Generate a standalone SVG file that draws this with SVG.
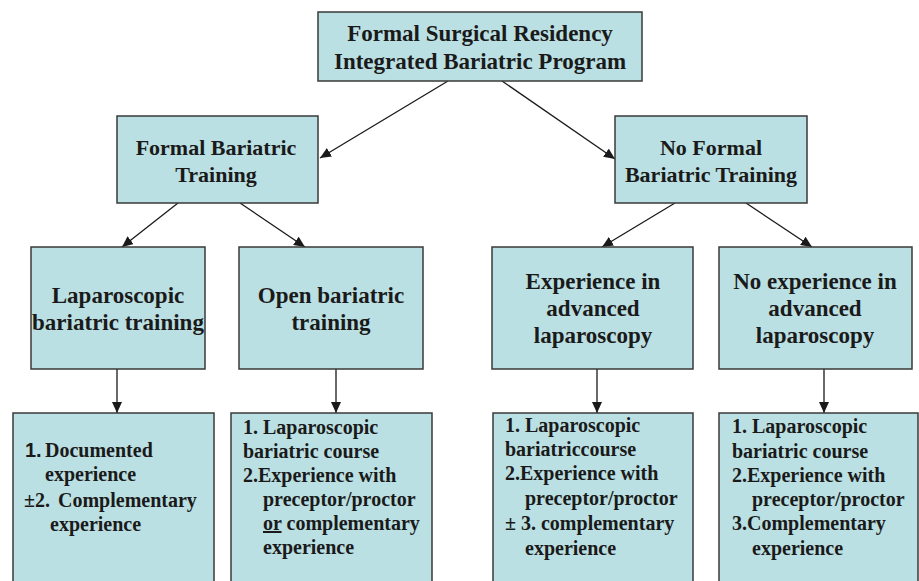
<svg xmlns="http://www.w3.org/2000/svg" width="919" height="581" viewBox="0 0 919 581">
<style>
.box{fill:#bbe0e3;stroke:#3a3a3a;stroke-width:1.5}
text{font-family:"Liberation Serif","Times New Roman",serif;font-weight:bold;fill:#1a1a1a}
.t23{font-size:23px;text-anchor:middle}
.t22{font-size:22px;text-anchor:middle}
.t20{font-size:20px}
.c{stroke:#1a1a1a;stroke-width:1.3;fill:none}
</style>
<defs>
<marker id="ah" markerUnits="userSpaceOnUse" markerWidth="12" markerHeight="10" refX="11" refY="5" orient="auto">
<path d="M0,0 L11,5 L0,10 Z" fill="#1a1a1a"/>
</marker>
</defs>
<g id="connectors">
<line class="c" x1="448" y1="81" x2="320" y2="158" marker-end="url(#ah)"/>
<line class="c" x1="502" y1="81" x2="615" y2="159" marker-end="url(#ah)"/>
<line class="c" x1="178" y1="203" x2="122" y2="247" marker-end="url(#ah)"/>
<line class="c" x1="240" y1="203" x2="305" y2="247" marker-end="url(#ah)"/>
<line class="c" x1="675" y1="203" x2="602" y2="247" marker-end="url(#ah)"/>
<line class="c" x1="746" y1="203" x2="812" y2="247" marker-end="url(#ah)"/>
<line class="c" x1="117" y1="369" x2="117" y2="413" marker-end="url(#ah)"/>
<line class="c" x1="336" y1="369" x2="336" y2="413" marker-end="url(#ah)"/>
<line class="c" x1="597" y1="369" x2="597" y2="413" marker-end="url(#ah)"/>
<line class="c" x1="824" y1="369" x2="824" y2="413" marker-end="url(#ah)"/>
</g>
<g id="root">
<rect class="box" x="318" y="12" width="324" height="69"/>
<text class="t23" x="480" y="41">Formal Surgical Residency</text>
<text class="t23" x="480" y="69">Integrated Bariatric Program</text>
</g>
<g id="formal">
<rect class="box" x="117" y="116" width="201" height="87"/>
<text class="t22" x="216" y="155">Formal Bariatric</text>
<text class="t22" x="216" y="182">Training</text>
</g>
<g id="noformal">
<rect class="box" x="615" y="116" width="192" height="87"/>
<text class="t22" x="711" y="155">No Formal</text>
<text class="t22" x="711" y="182">Bariatric Training</text>
</g>
<g id="lap">
<rect class="box" x="31" y="247" width="174" height="122"/>
<text class="t23" x="118" y="303">Laparoscopic</text>
<text class="t23" x="118" y="330">bariatric training</text>
</g>
<g id="open">
<rect class="box" x="239" y="247" width="184" height="122"/>
<text class="t23" x="331" y="303">Open bariatric</text>
<text class="t23" x="331" y="330">training</text>
</g>
<g id="exp">
<rect class="box" x="492" y="247" width="201" height="122"/>
<text class="t23" x="593" y="289">Experience in</text>
<text class="t23" x="593" y="316">advanced</text>
<text class="t23" x="593" y="343">laparoscopy</text>
</g>
<g id="noexp">
<rect class="box" x="719" y="247" width="193" height="122"/>
<text class="t23" x="815" y="289">No experience in</text>
<text class="t23" x="815" y="316">advanced</text>
<text class="t23" x="815" y="343">laparoscopy</text>
</g>
<g id="out1">
<rect class="box" x="13" y="413" width="201" height="180"/>
<text class="t20" x="25" y="457"><tspan font-family="Liberation Sans, Arial, sans-serif">1.</tspan><tspan x="45">Documented</tspan></text>
<text class="t20" x="45" y="481">experience</text>
<text class="t20" x="24" y="507">±2. <tspan x="58">Complementary</tspan></text>
<text class="t20" x="50" y="531">experience</text>
</g>
<g id="out2">
<rect class="box" x="231" y="413" width="201" height="180"/>
<text class="t20" x="243" y="434">1. Laparoscopic</text>
<text class="t20" x="243" y="458">bariatric course</text>
<text class="t20" x="243" y="482">2.Experience with</text>
<text class="t20" x="263" y="506">preceptor/proctor</text>
<text class="t20" x="263" y="530"><tspan text-decoration="underline">or</tspan> complementary</text>
<text class="t20" x="263" y="554">experience</text>
</g>
<g id="out3">
<rect class="box" x="493" y="413" width="200" height="180"/>
<text class="t20" x="505" y="432">1. Laparoscopic</text>
<text class="t20" x="505" y="456">bariatriccourse</text>
<text class="t20" x="505" y="480">2.Experience with</text>
<text class="t20" x="525" y="505">preceptor/proctor</text>
<text class="t20" x="505" y="530">± 3. complementary</text>
<text class="t20" x="525" y="555">experience</text>
</g>
<g id="out4">
<rect class="box" x="719" y="413" width="199" height="180"/>
<text class="t20" x="732" y="433">1. Laparoscopic</text>
<text class="t20" x="732" y="458">bariatric course</text>
<text class="t20" x="732" y="482">2.Experience with</text>
<text class="t20" x="752" y="506">preceptor/proctor</text>
<text class="t20" x="732" y="530">3.Complementary</text>
<text class="t20" x="752" y="555">experience</text>
</g>
</svg>
